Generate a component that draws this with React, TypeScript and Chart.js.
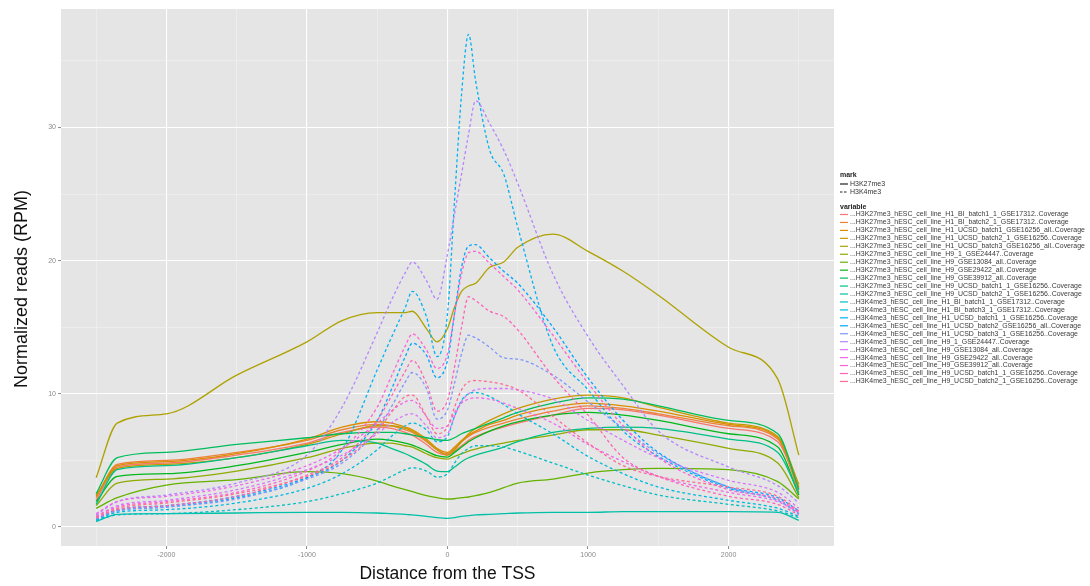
import React, { useEffect, useRef } from "react";
import { Chart, registerables } from "chart.js";

Chart.register(...registerables);

// Distance from the TSS (bp) at which each coverage profile is sampled
const DISTANCE = [
  -2500, -2350, -2000, -1500, -1000, -750, -500, -400, -300, -250, -150, -75, 0,
  50, 100, 150, 200, 300, 400, 500, 750, 1000, 1250, 1500, 2000, 2350, 2500,
];

const X_TICKS = [-2500, -2000, -1500, -1000, -500, 0, 500, 1000, 1500, 2000, 2500];
const X_LABELED = [-2000, -1000, 0, 1000, 2000];
const Y_TICKS = [0, 5, 10, 15, 20, 25, 30, 35];
const Y_LABELED = [0, 10, 20, 30];

const X_TITLE = "Distance from the TSS";
const Y_TITLE = "Normalized reads (RPM)";

const MARKS = ["H3K27me3", "H3K4me3"];

const VARIABLES = [
  "...H3K27me3_hESC_cell_line_H1_BI_batch1_1_GSE17312..Coverage",
  "...H3K27me3_hESC_cell_line_H1_BI_batch2_1_GSE17312..Coverage",
  "...H3K27me3_hESC_cell_line_H1_UCSD_batch1_GSE16256_all..Coverage",
  "...H3K27me3_hESC_cell_line_H1_UCSD_batch2_1_GSE16256..Coverage",
  "...H3K27me3_hESC_cell_line_H1_UCSD_batch3_GSE16256_all..Coverage",
  "...H3K27me3_hESC_cell_line_H9_1_GSE24447..Coverage",
  "...H3K27me3_hESC_cell_line_H9_GSE13084_all..Coverage",
  "...H3K27me3_hESC_cell_line_H9_GSE29422_all..Coverage",
  "...H3K27me3_hESC_cell_line_H9_GSE39912_all..Coverage",
  "...H3K27me3_hESC_cell_line_H9_UCSD_batch1_1_GSE16256..Coverage",
  "...H3K27me3_hESC_cell_line_H9_UCSD_batch2_1_GSE16256..Coverage",
  "...H3K4me3_hESC_cell_line_H1_BI_batch1_1_GSE17312..Coverage",
  "...H3K4me3_hESC_cell_line_H1_BI_batch3_1_GSE17312..Coverage",
  "...H3K4me3_hESC_cell_line_H1_UCSD_batch1_1_GSE16256..Coverage",
  "...H3K4me3_hESC_cell_line_H1_UCSD_batch2_GSE16256_all..Coverage",
  "...H3K4me3_hESC_cell_line_H1_UCSD_batch3_1_GSE16256..Coverage",
  "...H3K4me3_hESC_cell_line_H9_1_GSE24447..Coverage",
  "...H3K4me3_hESC_cell_line_H9_GSE13084_all..Coverage",
  "...H3K4me3_hESC_cell_line_H9_GSE29422_all..Coverage",
  "...H3K4me3_hESC_cell_line_H9_GSE39912_all..Coverage",
  "...H3K4me3_hESC_cell_line_H9_UCSD_batch1_1_GSE16256..Coverage",
  "...H3K4me3_hESC_cell_line_H9_UCSD_batch2_1_GSE16256..Coverage",
];

// H3K27me3 profiles (RPM)
const K27_H1_BI_B1 = [2.0, 4.5, 4.8, 5.4, 6.3, 7.1, 7.5, 7.4, 7.1, 6.9, 6.2, 5.6, 5.4, 5.7, 6.1, 6.5, 6.8, 7.2, 7.5, 7.8, 8.4, 8.9, 8.8, 8.4, 7.4, 6.4, 2.9];
const K27_H1_BI_B2 = [2.2, 4.7, 5.0, 5.6, 6.5, 7.3, 7.7, 7.6, 7.3, 7.1, 6.4, 5.8, 5.5, 5.9, 6.4, 6.8, 7.1, 7.5, 7.8, 8.1, 8.7, 9.1, 8.9, 8.5, 7.6, 6.6, 2.6];
const K27_H1_UCSD_B1 = [2.3, 4.6, 4.9, 5.5, 6.6, 7.5, 7.9, 7.8, 7.5, 7.3, 6.6, 5.9, 5.6, 6.0, 6.5, 6.9, 7.2, 7.7, 8.0, 8.4, 9.0, 9.3, 9.1, 8.7, 7.7, 6.7, 3.0];
const K27_H1_UCSD_B2 = [2.4, 4.4, 4.7, 5.2, 6.2, 7.0, 7.6, 7.6, 7.4, 7.2, 6.5, 5.8, 5.4, 5.8, 6.4, 7.0, 7.4, 8.0, 8.5, 8.9, 9.6, 9.9, 9.7, 9.0, 7.8, 6.8, 3.2];
const K27_H1_UCSD_B3 = [3.7, 7.8, 8.5, 11.4, 13.9, 15.5, 16.1, 16.1, 16.1, 16.2, 14.9, 13.9, 14.9, 16.5, 17.7, 18.1, 18.3, 19.5, 19.9, 21.0, 22.0, 20.7, 19.2, 17.4, 13.5, 11.1, 5.4];
const K27_H9_1 = [1.6, 3.3, 3.6, 4.2, 5.2, 5.9, 6.3, 6.3, 6.1, 6.0, 5.5, 5.2, 5.1, 5.3, 5.5, 5.7, 5.85, 6.1, 6.3, 6.5, 6.9, 7.3, 7.3, 6.9, 5.9, 4.8, 2.2];
const K27_H9_GSE13084 = [1.4, 2.2, 3.15, 3.55, 4.15, 4.0, 3.45, 3.1, 2.8, 2.65, 2.35, 2.2, 2.1, 2.12, 2.2, 2.25, 2.35, 2.6, 2.95, 3.3, 3.6, 4.05, 4.3, 4.4, 4.3, 3.4, 2.1];
const K27_H9_GSE29422 = [1.9, 3.8, 4.0, 4.6, 5.6, 6.2, 6.6, 6.5, 6.3, 6.15, 5.7, 5.35, 5.25, 5.6, 6.0, 6.4, 6.7, 7.2, 7.6, 7.9, 8.4, 8.6, 8.4, 8.0, 7.0, 6.0, 2.4];
const K27_H9_GSE39912 = [2.5, 5.2, 5.6, 6.2, 6.7, 7.0, 7.1, 7.1, 7.0, 6.9, 6.7, 6.55, 6.5, 6.7, 7.0, 7.2, 7.4, 7.8, 8.2, 8.6, 9.3, 9.7, 9.6, 9.1, 8.0, 7.0, 2.8];
const K27_H9_UCSD_B1 = [1.7, 4.3, 4.6, 5.2, 6.1, 6.5, 6.3, 5.9, 5.5, 5.25, 4.7, 4.2, 4.15, 4.5, 4.9, 5.2, 5.4, 5.7, 6.0, 6.4, 7.1, 7.4, 7.5, 7.4, 6.6, 5.6, 2.5];
const K27_H9_UCSD_B2 = [0.4, 0.95, 1.0, 1.05, 1.1, 1.1, 1.05, 1.0, 0.95, 0.9, 0.8, 0.7, 0.65, 0.7, 0.8, 0.85, 0.9, 0.95, 1.0, 1.05, 1.1, 1.1, 1.15, 1.15, 1.15, 1.1, 0.5];

// H3K4me3 profiles (RPM)
const K4_H1_BI_B1 = [0.5, 0.9, 1.0, 1.3, 1.9, 2.5, 3.3, 3.8, 4.3, 4.45, 4.2, 3.75, 4.0, 4.8, 5.5, 5.9, 6.1, 6.1, 6.0, 5.7, 4.8, 3.9, 3.1, 2.4, 1.7, 1.2, 0.7];
const K4_H1_BI_B3 = [0.5, 1.1, 1.3, 1.8, 2.9, 4.0, 5.8, 6.8, 7.6, 7.8, 7.3, 6.4, 6.8, 8.3, 9.5, 10.0, 10.1, 9.8, 9.2, 8.5, 7.0, 5.3, 4.0, 3.0, 2.0, 1.4, 0.8];
const K4_H1_UCSD_B1 = [0.6, 1.2, 1.5, 2.2, 3.7, 5.8, 11.8, 14.2, 16.5, 17.7, 15.8, 12.8, 16.0, 24.5, 32.5, 37.0, 33.5, 28.3, 26.5, 22.5, 13.6, 10.3, 7.2, 5.3, 2.9, 2.0, 1.0];
const K4_H1_UCSD_B2 = [0.6, 1.3, 1.6, 2.3, 3.7, 5.0, 8.0, 10.3, 12.8, 13.8, 12.9, 11.2, 12.5, 16.0, 19.5, 21.1, 21.2, 20.2, 19.2, 18.3, 15.0, 11.2, 8.0, 5.6, 3.0, 2.2, 1.2];
const K4_H1_UCSD_B3 = [0.6, 1.2, 1.5, 2.1, 3.6, 4.8, 7.3, 9.0, 10.9, 11.6, 10.4, 8.1, 8.8, 10.8, 13.0, 14.4, 14.2, 13.5, 12.7, 12.6, 11.4, 9.4, 7.4, 5.5, 3.0, 2.0, 1.0];
const K4_H9_1 = [0.9, 1.9, 2.4, 3.3, 5.4, 9.0, 14.6, 17.0, 19.1, 19.9, 18.5, 17.1, 20.5, 23.5, 26.5, 29.5, 32.0, 30.3, 28.3, 25.8, 19.0, 14.3, 10.6, 7.2, 4.5, 3.1, 1.8];
const K4_H9_GSE13084 = [0.8, 1.6, 2.0, 2.8, 4.3, 5.4, 7.0, 7.8, 8.4, 8.5, 7.6, 6.7, 7.0, 8.3, 9.4, 10.0, 10.3, 10.4, 10.4, 10.3, 9.6, 8.0, 6.5, 5.2, 3.5, 2.6, 1.4];
const K4_H9_GSE29422 = [1.0, 1.9, 2.3, 3.1, 4.6, 5.9, 7.8, 8.7, 9.4, 9.5, 8.3, 7.4, 7.6, 8.6, 9.3, 9.6, 9.7, 9.6, 9.3, 8.9, 7.8, 6.2, 4.9, 3.8, 2.6, 1.9, 1.1];
const K4_H9_GSE39912 = [0.8, 1.5, 1.9, 2.6, 4.2, 5.8, 9.0, 11.3, 13.6, 14.5, 13.3, 11.9, 13.0, 16.0, 19.0, 20.6, 20.7, 19.8, 18.8, 17.8, 14.4, 10.8, 7.6, 5.2, 2.8, 2.1, 1.1];
const K4_H9_UCSD_B1 = [0.7, 1.3, 1.6, 2.3, 3.9, 5.2, 8.0, 9.8, 11.7, 12.5, 10.8, 8.7, 9.5, 12.0, 15.0, 17.3, 17.0, 16.2, 15.8, 14.8, 11.3, 8.4, 5.2, 3.8, 2.3, 1.7, 0.9];
const K4_H9_UCSD_B2 = [0.7, 1.4, 1.8, 2.5, 3.8, 5.0, 7.2, 8.6, 9.8, 9.9, 8.3, 7.0, 7.5, 9.0, 10.3, 10.9, 11.0, 10.9, 10.7, 10.3, 8.3, 6.3, 4.6, 3.8, 3.0, 2.3, 1.2];

const SERIES = [
  K27_H1_BI_B1, K27_H1_BI_B2, K27_H1_UCSD_B1, K27_H1_UCSD_B2, K27_H1_UCSD_B3,
  K27_H9_1, K27_H9_GSE13084, K27_H9_GSE29422, K27_H9_GSE39912, K27_H9_UCSD_B1, K27_H9_UCSD_B2,
  K4_H1_BI_B1, K4_H1_BI_B3, K4_H1_UCSD_B1, K4_H1_UCSD_B2, K4_H1_UCSD_B3,
  K4_H9_1, K4_H9_GSE13084, K4_H9_GSE29422, K4_H9_GSE39912, K4_H9_UCSD_B1, K4_H9_UCSD_B2,
];

const FONT = "'Liberation Sans', Arial, Helvetica, sans-serif";
const DASH = [3, 2.5];

// Evenly spaced hues in polar CIELUV (c = 100, l = 65), the usual ggplot2 discrete palette
function hclHex(h: number, c: number, l: number): string {
  const WX = 95.047, WY = 100, WZ = 108.883;
  const d = WX + 15 * WY + 3 * WZ;
  const un = (4 * WX) / d, vn = (9 * WY) / d;
  const rad = (h * Math.PI) / 180;
  const U = c * Math.cos(rad), V = c * Math.sin(rad);
  const Y = WY * Math.pow((l + 16) / 116, 3);
  const up = U / (13 * l) + un, vp = V / (13 * l) + vn;
  const X = (9 * Y * up) / (4 * vp);
  const Z = (3 * Y) / vp - X / 3 - 5 * Y;
  const lin = [
    3.240479 * X - 1.53715 * Y - 0.498535 * Z,
    -0.969256 * X + 1.875992 * Y + 0.041556 * Z,
    0.055648 * X - 0.204043 * Y + 1.057311 * Z,
  ].map((v) => v / 100);
  const hex = lin
    .map((v) => (v <= 0.0031308 ? 12.92 * v : 1.055 * Math.pow(v, 1 / 2.4) - 0.055))
    .map((v) => Math.round(Math.min(1, Math.max(0, v)) * 255))
    .map((v) => v.toString(16).padStart(2, "0"))
    .join("");
  return "#" + hex;
}

function huePalette(n: number): string[] {
  const out: string[] = [];
  for (let i = 0; i < n; i++) out.push(hclHex(15 + (360 / n) * i, 100, 65));
  return out;
}

const isK4 = (name: string) => name.includes("H3K4me3");

const panelBackground = {
  id: "panelBackground",
  beforeDraw(chart: any) {
    const { ctx, chartArea } = chart;
    ctx.save();
    ctx.fillStyle = "#e5e5e5";
    ctx.fillRect(chartArea.left, chartArea.top, chartArea.right - chartArea.left, chartArea.bottom - chartArea.top);
    ctx.restore();
  },
};

// Vertical axis title, set a little below the panel centre
const yAxisTitle = {
  id: "yAxisTitle",
  afterDraw(chart: any) {
    const ctx = chart.ctx as CanvasRenderingContext2D;
    ctx.save();
    ctx.translate(22, 289);
    ctx.rotate(-Math.PI / 2);
    ctx.textAlign = "center";
    ctx.textBaseline = "middle";
    ctx.fillStyle = "#111";
    ctx.font = `18px ${FONT}`;
    ctx.fillText(Y_TITLE, 0, 0);
    ctx.restore();
  },
};

function makeLegend(palette: string[]) {
  return {
    id: "sideLegend",
    afterDraw(chart: any) {
      const ctx = chart.ctx as CanvasRenderingContext2D;
      const left = chart.chartArea.right + 6;
      const keyW = 8;
      const textX = left + keyW + 2;
      ctx.save();
      ctx.textBaseline = "middle";
      ctx.textAlign = "left";

      ctx.fillStyle = "#222";
      ctx.font = `bold 7px ${FONT}`;
      ctx.fillText("mark", left, 175);
      ctx.font = `7px ${FONT}`;
      MARKS.forEach((m, i) => {
        const y = 184 + i * 8;
        ctx.strokeStyle = "#222";
        ctx.lineWidth = 1.2;
        ctx.setLineDash(i === 1 ? [2.5, 1.5] : []);
        ctx.beginPath();
        ctx.moveTo(left, y);
        ctx.lineTo(left + keyW, y);
        ctx.stroke();
        ctx.fillStyle = "#333";
        ctx.fillText(m, textX, y);
      });

      ctx.setLineDash([]);
      ctx.fillStyle = "#222";
      ctx.font = `bold 7px ${FONT}`;
      ctx.fillText("variable", left, 207);
      ctx.font = `6.95px ${FONT}`;
      VARIABLES.forEach((v, i) => {
        const y = 214.5 + i * 7.95;
        ctx.strokeStyle = palette[i];
        ctx.lineWidth = 1.2;
        ctx.beginPath();
        ctx.moveTo(left, y);
        ctx.lineTo(left + keyW, y);
        ctx.stroke();
        ctx.fillStyle = "#3a3a3a";
        ctx.fillText(v, textX, y);
      });
      ctx.restore();
    },
  };
}

export default function App() {
  const ref = useRef<HTMLCanvasElement>(null);

  useEffect(() => {
    const canvas = ref.current;
    if (!canvas) return;
    const palette = huePalette(VARIABLES.length);

    const datasets = VARIABLES.map((name, i) => ({
      label: name,
      data: DISTANCE.map((x, j) => ({ x, y: SERIES[i][j] })),
      borderColor: palette[i],
      backgroundColor: palette[i],
      borderWidth: 1.3,
      borderDash: isK4(name) ? DASH : [],
      pointRadius: 0,
      pointHoverRadius: 0,
      cubicInterpolationMode: "monotone" as const,
      fill: false,
      order: -i,
    }));

    const gridFor = (majors: number[]) => ({
      color: (c: any) => (majors.includes(c.tick?.value) ? "#ffffff" : "#f2f2f2"),
      lineWidth: (c: any) => (majors.includes(c.tick?.value) ? 1.1 : 0.6),
      tickColor: (c: any) => (majors.includes(c.tick?.value) ? "#8a8a8a" : "rgba(0,0,0,0)"),
      tickWidth: 1,
      tickLength: 3,
      drawTicks: true,
      drawOnChartArea: true,
    });

    const tickFont = { family: FONT, size: 7 };

    const chart = new Chart(canvas, {
      type: "line",
      data: { datasets: datasets as any },
      options: {
        animation: false,
        responsive: false,
        devicePixelRatio: 1,
        events: [],
        layout: { padding: { top: 9, right: 256, bottom: 0, left: 0 } },
        plugins: {
          legend: { display: false },
          tooltip: { enabled: false },
        },
        scales: {
          x: {
            type: "linear",
            min: -2750,
            max: 2750,
            afterBuildTicks: (s: any) => {
              s.ticks = X_TICKS.map((v) => ({ value: v }));
            },
            afterFit: (s: any) => {
              s.height = 40;
            },
            border: { display: false },
            grid: gridFor(X_LABELED) as any,
            ticks: {
              autoSkip: false,
              maxRotation: 0,
              padding: 2,
              color: "#8a8a8a",
              font: tickFont,
              callback: (v: any) => (X_LABELED.includes(Number(v)) ? String(v) : ""),
            },
            title: {
              display: true,
              text: X_TITLE,
              color: "#111",
              font: { family: FONT, size: 17.5 },
              padding: { top: 0, bottom: 1 },
            },
          },
          y: {
            type: "linear",
            min: -1.43,
            max: 38.9,
            afterBuildTicks: (s: any) => {
              s.ticks = Y_TICKS.map((v) => ({ value: v }));
            },
            afterFit: (s: any) => {
              s.width = 61;
            },
            border: { display: false },
            grid: gridFor(Y_LABELED) as any,
            ticks: {
              autoSkip: false,
              padding: 2,
              color: "#8a8a8a",
              font: tickFont,
              callback: (v: any) => (Y_LABELED.includes(Number(v)) ? String(v) : ""),
            },
            title: { display: false },
          },
        },
      },
      plugins: [panelBackground, yAxisTitle, makeLegend(palette)],
    });

    return () => chart.destroy();
  }, []);

  return (
    <div style={{ position: "fixed", left: 0, top: 0, width: 1090, height: 586, background: "#ffffff" }}>
      <canvas ref={ref} width={1090} height={586} style={{ display: "block" }} />
    </div>
  );
}
